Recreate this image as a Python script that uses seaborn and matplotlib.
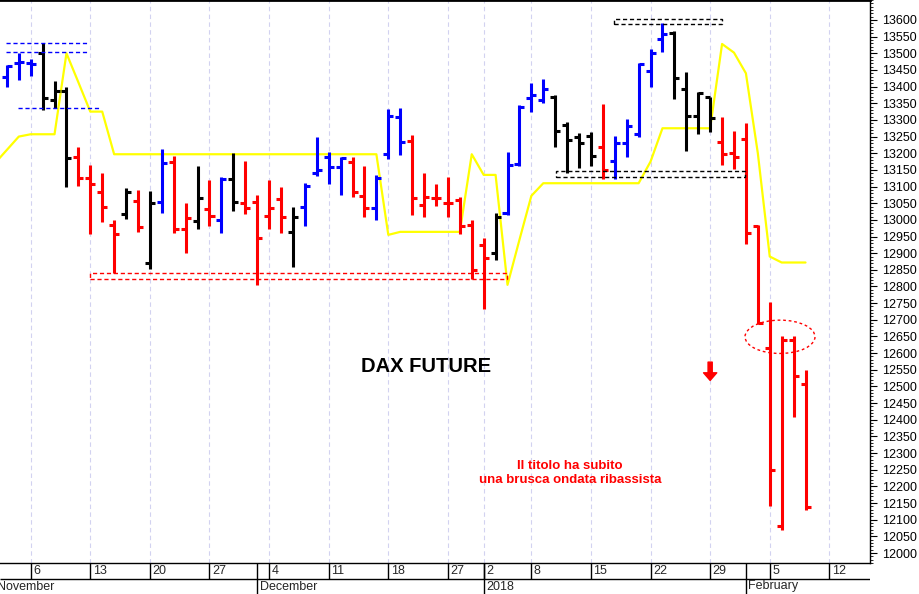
import numpy as np
import pandas as pd
import matplotlib
matplotlib.use("Agg")
import matplotlib.pyplot as plt
import seaborn as sns
from matplotlib.patches import Ellipse, Rectangle
from matplotlib.ticker import FixedLocator, MultipleLocator

# trading calendar (DAX future), holidays removed
holidays = ["2017-12-25", "2017-12-26", "2018-01-01"]
calendar = pd.bdate_range("2017-11-01", "2018-02-16", freq="C", holidays=holidays)
bar_dates = pd.bdate_range("2017-11-02", "2018-02-08", freq="C", holidays=holidays)
line_dates = pd.bdate_range("2017-11-01", "2018-02-08", freq="C", holidays=holidays)

# daily OHLC, Nov 2 2017 -> Feb 8 2018
opens = [13430, 13470, 13470, 13502, 13360, 13387, 13190, 13126, 13083, 12985,
         13017, 13057, 12870, 13055, 13173, 12972, 12998, 13033, 13000, 13122,
         13052, 13055, 13012, 13062, 12965, 13038, 13142, 13190, 13158, 13175,
         13072, 13035, 13198, 13310, 13238, 13045, 13065, 13052, 13060, 12985,
         12925, 12900, 13020, 13168, 13365, 13360, 13368, 13285, 13250, 13252,
         13218, 13177, 13230, 13258, 13448, 13542, 13560, 13392, 13312, 13370,
         13233, 13200, 13242, 12982, 12615, 12080, 12640, 12507]
highs = [13465, 13502, 13482, 13532, 13418, 13400, 13218, 13165, 13140, 13000,
         13095, 13090, 13087, 13212, 13192, 13052, 13162, 13120, 13130, 13200,
         13178, 13075, 13120, 13098, 13038, 13110, 13248, 13205, 13188, 13190,
         13162, 13135, 13332, 13335, 13255, 13140, 13107, 13130, 13068, 13000,
         12945, 13020, 13205, 13345, 13410, 13422, 13375, 13295, 13262, 13265,
         13347, 13252, 13302, 13470, 13512, 13592, 13568, 13445, 13385, 13370,
         13308, 13268, 13292, 12985, 12752, 12650, 12650, 12548]
lows = [13398, 13420, 13432, 13330, 13335, 13098, 13102, 12957, 12995, 12840,
        13003, 12963, 12852, 13020, 12960, 12900, 12972, 12982, 12960, 13027,
        13018, 12805, 12972, 12960, 12860, 12983, 13132, 13108, 13075, 13068,
        13008, 13000, 13182, 13195, 13015, 13008, 13043, 13010, 12958, 12822,
        12732, 12880, 13015, 13162, 13325, 13350, 13218, 13142, 13155, 13162,
        13122, 13122, 13190, 13248, 13398, 13505, 13362, 13208, 13258, 13265,
        13165, 13152, 12928, 12688, 12142, 12070, 12408, 12130]
closes = [13462, 13475, 13468, 13365, 13387, 13185, 13125, 13107, 13040, 12957,
          13085, 12978, 13050, 13170, 12972, 13005, 13065, 13012, 13122, 13055,
          13035, 12945, 13035, 13008, 13010, 13102, 13150, 13158, 13185, 13085,
          13035, 13125, 13312, 13235, 13065, 13070, 13065, 13050, 12982, 12850,
          12885, 13010, 13165, 13338, 13375, 13392, 13268, 13240, 13230, 13192,
          13150, 13232, 13282, 13468, 13500, 13558, 13425, 13312, 13382, 13305,
          13198, 13190, 12960, 12690, 12248, 12640, 12530, 12138]
# B = rialzo (blu), K = neutro (nero), R = ribasso (rosso)
bar_colour = list("BBBKKKRRRRKRKBRRKRBKRRRRKBBBBRRBBBRRRRRRRKBBBBKKKKRBBBBBKKKKRRRRRRRR")

# yellow trailing line, Nov 1 2017 -> Feb 8 2018
yellow = [13170, 13210, 13250, 13257, 13257, 13257, 13500, 13413, 13325, 13325,
          13197, 13197, 13197, 13197, 13197, 13197, 13197, 13197, 13197, 13197,
          13197, 13197, 13197, 13197, 13197, 13197, 13197, 13197, 13197, 13197,
          13197, 13197, 13197, 12955, 12964, 12964, 12964, 12964, 12964, 12964,
          13197, 13135, 13135, 12805, 12940, 13072, 13110, 13110, 13110, 13110,
          13110, 13110, 13110, 13110, 13110, 13175, 13275, 13275, 13275, 13275,
          13275, 13528, 13502, 13440, 13200, 12890, 12872, 12872, 12872]

month_names = ["November", "December", "2018", "February"]

palette = {"B": "#0000ff", "K": "#000000", "R": "#ff0000"}

# positions: one slot per trading day, Nov 6 = 0
day_pos = pd.Series(np.arange(len(calendar)) - 3, index=calendar)
x = day_pos[bar_dates].to_numpy()
xl = day_pos[line_dates].to_numpy()
wk = calendar.isocalendar().week.to_numpy()
week_idx = [i for i in range(1, len(calendar)) if wk[i] != wk[i - 1]]
week_pos = day_pos.iloc[week_idx].to_numpy()
week_days = [calendar[i].day for i in week_idx]
mo = calendar.month
month_idx = [0] + [i for i in range(1, len(calendar)) if mo[i] != mo[i - 1]]
month_pos = day_pos.iloc[month_idx].to_numpy()

sns.set_theme(style="white")
plt.rcParams["font.family"] = ["Liberation Sans", "DejaVu Sans"]

fig = plt.figure(figsize=(9.2, 5.94), dpi=100)
ax = fig.add_axes([0, 31 / 594, 870 / 920, 563 / 594])
axd = fig.add_axes([0, 0, 870 / 920, 31 / 594])

XMIN, XMAX = -2.575, 70.41
YMIN, YMAX = 11970, 13660
ax.set_xlim(XMIN, XMAX)
ax.set_ylim(YMIN, YMAX)

ax.vlines(week_pos, YMIN, YMAX, colors="#d2d2f0", linestyles=(0, (4, 3)), lw=0.8, zorder=0)

sns.lineplot(x=xl, y=yellow, ax=ax, color="#ffff00", lw=1.6, zorder=2)

cols = [palette[c] for c in bar_colour]
ax.vlines(x, lows, highs, colors=cols, lw=2.2, zorder=3)
ax.hlines(opens, x - 0.42, x, colors=cols, lw=2.2, zorder=3)
ax.hlines(closes, x, x + 0.42, colors=cols, lw=2.2, zorder=3)

# annotations
dash = (0, (3, 2))
ax.hlines([13530, 13503], -2.07, 4.75, colors="#0000ff", linestyles=dash, lw=1, zorder=4)
ax.hlines(13335, -1.04, 5.75, colors="#0000ff", linestyles=dash, lw=1, zorder=4)
ax.add_patch(Rectangle((4.97, 12822), 35.0, 20, fill=False, ec="#ff0000", ls=dash, lw=1, zorder=4))
ax.add_patch(Rectangle((48.93, 13588), 9.04, 14, fill=False, ec="black", ls=dash, lw=1, zorder=4))
ax.add_patch(Rectangle((44.07, 13128), 15.85, 18, fill=False, ec="black", ls=dash, lw=1, zorder=4))
ax.add_patch(Ellipse((62.86, 12649), 5.87, 100, fill=False, ec="#ff0000", ls=(0, (2, 2)), lw=1, zorder=4))
ax.annotate("", xy=(57.0, 12518), xytext=(57.0, 12573),
            arrowprops=dict(facecolor="#ff0000", edgecolor="#ff0000", width=3, headwidth=9.5,
                            headlength=5.5, shrink=0))

ax.text(33.16, 12561, "DAX FUTURE", ha="center", va="center", fontsize=14.5,
        fontweight="bold", color="black")
ax.text(45.24, 12240, "Il titolo ha subito\nuna brusca ondata ribassista", ha="center",
        va="center", multialignment="center", fontsize=9.5, fontweight="bold",
        color="#ff0000", linespacing=1.25)

# right price axis
ax.yaxis.tick_right()
ax.yaxis.set_major_locator(FixedLocator(np.arange(12000, 13601, 50)))
ax.yaxis.set_minor_locator(MultipleLocator(10))
ax.tick_params(axis="y", which="major", direction="out", length=5, width=0.8,
               labelsize=9, pad=4, colors="black", right=True, left=False)
ax.tick_params(axis="y", which="minor", direction="out", length=2.5, width=0.6,
               right=True, left=False, colors="black")
ax.set_xticks([])
ax.set_xlabel("")
ax.set_ylabel("")
ax.spines["left"].set_visible(False)
for s in ["right", "bottom", "top"]:
    ax.spines[s].set_color("black")
    ax.spines[s].set_linewidth(1)
ax.spines["top"].set_linewidth(2)

# date strip below the chart
axd.set_xlim(XMIN, XMAX)
axd.set_ylim(0, 31)
axd.axis("off")
axd.hlines(15, XMIN, XMAX, colors="black", lw=1)
axd.vlines(week_pos, 15, 31, colors="black", lw=1)
axd.vlines(month_pos, 0, 31, colors="black", lw=1)
for p, d in zip(week_pos, week_days):
    axd.text(p + 0.2, 23, str(d), ha="left", va="center", fontsize=9)
for p, m in zip(month_pos, month_names):
    axd.text(p + 0.2, 7.5, m, ha="left", va="center", fontsize=9)

fig.savefig("out.png", dpi=100)
